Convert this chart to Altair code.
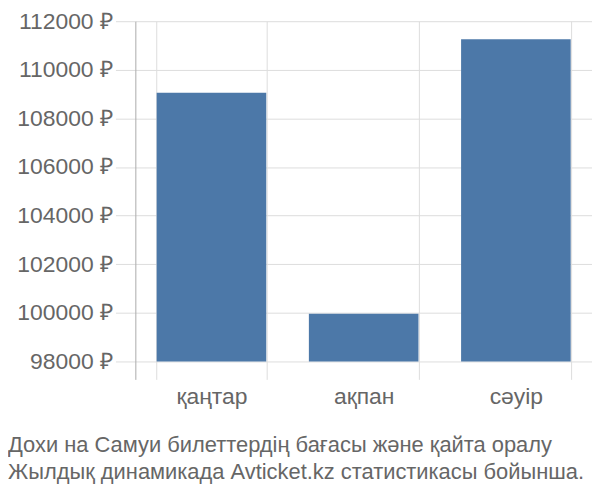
import altair as alt
import pandas as pd

months = ["қаңтар", "ақпан", "сәуір"]
prices = [109060, 99960, 111260]
y_ticks = [98000, 100000, 102000, 104000, 106000, 108000, 110000, 112000]
title_lines = [
    "Дохи на Самуи билеттердің бағасы және қайта оралу",
    "Жылдық динамикада Avticket.kz статистикасы бойынша.",
]

df = pd.DataFrame({"month": months, "price": prices})

FONT = "Liberation Sans"

chart = (
    alt.Chart(df)
    .mark_bar(color="#4c78a8")
    .encode(
        x=alt.X(
            "month:N",
            sort=months,
            title=None,
            scale=alt.Scale(paddingInner=0.28, paddingOuter=0.14),
            axis=alt.Axis(
                domain=False,
                ticks=False,
                grid=True,
                tickBand="extent",
                gridColor="#dddddd",
                labelAngle=0,
                labelFontSize=23,
                labelColor="#666666",
                labelFont=FONT,
                labelPadding=6,
            ),
        ),
        y=alt.Y(
            "price:Q",
            title=None,
            scale=alt.Scale(domain=[97263, 112000], nice=False, zero=False),
            axis=alt.Axis(
                values=y_ticks,
                labelExpr="format(datum.value, 'd') + ' ₽'",
                grid=True,
                gridColor="#dddddd",
                tickColor="#dddddd",
                tickSize=20,
                domainColor="#aaaaaa",
                labelFontSize=23,
                labelColor="#666666",
                labelFont=FONT,
                labelPadding=3,
            ),
        ),
        y2=alt.datum(98000),
    )
    .properties(
        width=459,
        height=360,
        autosize=alt.AutoSizeParams(type="none"),
        padding={"left": 128, "top": 12, "right": 0, "bottom": 120},
        title=alt.TitleParams(
            text=title_lines,
            orient="bottom",
            anchor="start",
            frame="group",
            dx=-128,
            offset=27,
            fontSize=22,
            fontWeight="normal",
            font=FONT,
            color="#666666",
            lineHeight=27,
        ),
    )
    .configure_view(stroke=None)
)

chart.save("out.html", embed_options={"renderer": "svg", "actions": False})
